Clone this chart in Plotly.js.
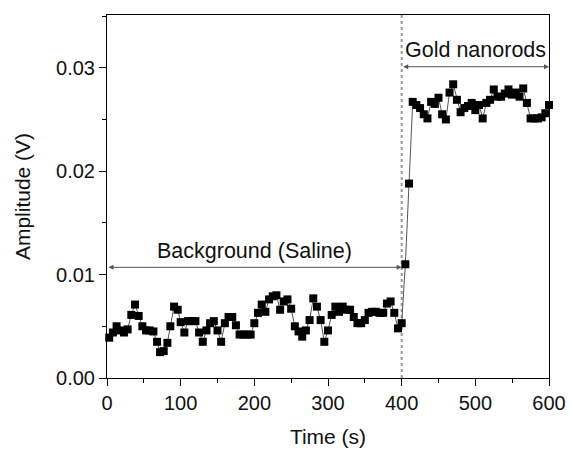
<!DOCTYPE html>
<html>
<head>
<meta charset="utf-8">
<script src="https://cdn.plot.ly/plotly-3.0.1.min.js"></script>
<style>html,body{margin:0;padding:0;background:#fff;}#plot{width:572px;height:453px;}</style>
</head>
<body>
<div id="plot"></div>
<script>
const timeS = [3,8,13,18,23,28,33,38,43,48,53,58,63,68,72,77,82,86,91,96,
  100,105,110,115,120,125,130,135,140,145,150,155,160,165,170,175,180,185,190,195,
  200,205,210,215,220,225,230,235,240,245,250,255,260,265,270,275,280,285,290,295,
  300,305,310,315,320,325,330,335,340,345,350,355,360,365,370,375,380,385,390,395,
  400,405,410,415,420,425,430,435,440,445,450,455,460,465,470,475,480,485,490,495,
  500,505,510,515,520,525,530,535,540,545,550,555,560,565,570,575,580,585,590,595,600];
const amplitudeV = [0.0039,0.0044,0.0050,0.0046,0.0044,0.0047,0.0061,0.0071,0.0060,0.0050,
  0.0046,0.0046,0.0045,0.0035,0.0025,0.0026,0.0034,0.0050,0.0069,0.0066,
  0.0054,0.0044,0.0055,0.0055,0.0055,0.0044,0.0035,0.0046,0.0053,0.0055,
  0.0046,0.0035,0.0053,0.0059,0.0059,0.0051,0.0042,0.0042,0.0042,0.0042,
  0.0053,0.0063,0.0071,0.0064,0.0076,0.0079,0.0080,0.0066,0.0074,0.0076,
  0.0067,0.0050,0.0045,0.0040,0.0046,0.0056,0.0077,0.0069,0.0056,0.0035,
  0.0046,0.0061,0.0069,0.0064,0.0069,0.0066,0.0066,0.0059,0.0053,0.0053,
  0.0056,0.0063,0.0064,0.0064,0.0063,0.0063,0.0072,0.0074,0.0063,0.0048,
  0.0053,0.0110,0.0188,0.0267,0.0264,0.0261,0.0255,0.0251,0.0267,0.0265,
  0.0271,0.0255,0.0250,0.0276,0.0284,0.0269,0.0257,0.0261,0.0263,0.0266,
  0.0259,0.0264,0.0251,0.0266,0.0269,0.0279,0.0272,0.0272,0.0275,0.0279,
  0.0274,0.0276,0.0272,0.0280,0.0266,0.0251,0.0251,0.0251,0.0252,0.0256,0.0264];

const xTickVals = [0,100,200,300,400,500,600];
const yTickVals = [0.00,0.01,0.02,0.03];
const switchTime = 400;
const backgroundRange = [0,400];
const goldRange = [400,600];
const backgroundLabel = "Background (Saline)";
const goldLabel = "Gold nanorods";
const backgroundArrowY = 0.0107;
const goldArrowY = 0.0301;

const fam = "Liberation Sans, Arial, sans-serif";
const tickFont = {family: fam, size: 20, color: "#111"};
const titleFont = {family: fam, size: 21, color: "#111"};
const annFont = {family: fam, size: 21.5, color: "#111"};

const trace = {
  x: timeS, y: amplitudeV, type: "scatter", mode: "lines+markers",
  line: {color: "#555", width: 1},
  marker: {symbol: "square", size: 8, color: "#000"},
  cliponaxis: false
};

const layout = {
  width: 572, height: 453,
  margin: {l: 107, r: 23, t: 15, b: 75},
  paper_bgcolor: "#fff", plot_bgcolor: "#fff",
  showlegend: false,
  font: tickFont,
  xaxis: {
    range: [0, 600], tickvals: xTickVals, ticks: "outside", ticklen: 7, tickwidth: 1,
    tickcolor: "#000", showline: true, linecolor: "#000", linewidth: 1, mirror: true,
    showgrid: false, zeroline: false, tickfont: tickFont,
    minor: {dtick: 50, ticks: "outside", ticklen: 4, tickcolor: "#000", showgrid: false},
    title: {text: "Time (s)", font: titleFont, standoff: 16}
  },
  yaxis: {
    range: [0, 0.0351], tickvals: yTickVals, tickformat: ".2f", ticks: "outside", ticklen: 7, tickwidth: 1,
    tickcolor: "#000", showline: true, linecolor: "#000", linewidth: 1, mirror: true,
    showgrid: false, zeroline: false, tickfont: tickFont,
    minor: {dtick: 0.005, ticks: "outside", ticklen: 4, tickcolor: "#000", showgrid: false},
    title: {text: "Amplitude (V)", font: titleFont, standoff: 19}
  },
  shapes: [
    {type: "line", xref: "x", yref: "paper", x0: switchTime, x1: switchTime, y0: 0, y1: 1,
     line: {color: "#999", width: 2, dash: "dot"}, layer: "below"}
  ],
  annotations: [
    {x: backgroundRange[1], y: backgroundArrowY, ax: backgroundRange[0], ay: backgroundArrowY,
     xref: "x", yref: "y", axref: "x", ayref: "y", text: "", showarrow: true,
     arrowhead: 2, arrowside: "end+start", arrowsize: 1, arrowwidth: 1, arrowcolor: "#555"},
    {x: (backgroundRange[0]+backgroundRange[1])/2, y: backgroundArrowY, xref: "x", yref: "y",
     text: backgroundLabel, showarrow: false, yanchor: "bottom", yshift: 2, font: annFont},
    {x: goldRange[1], y: goldArrowY, ax: goldRange[0], ay: goldArrowY,
     xref: "x", yref: "y", axref: "x", ayref: "y", text: "", showarrow: true,
     arrowhead: 2, arrowside: "end+start", arrowsize: 1, arrowwidth: 1, arrowcolor: "#555"},
    {x: (goldRange[0]+goldRange[1])/2, y: goldArrowY, xref: "x", yref: "y",
     text: goldLabel, showarrow: false, yanchor: "bottom", yshift: 3, font: annFont}
  ]
};

Plotly.newPlot("plot", [trace], layout, {displayModeBar: false, staticPlot: true});
</script>
</body>
</html>
